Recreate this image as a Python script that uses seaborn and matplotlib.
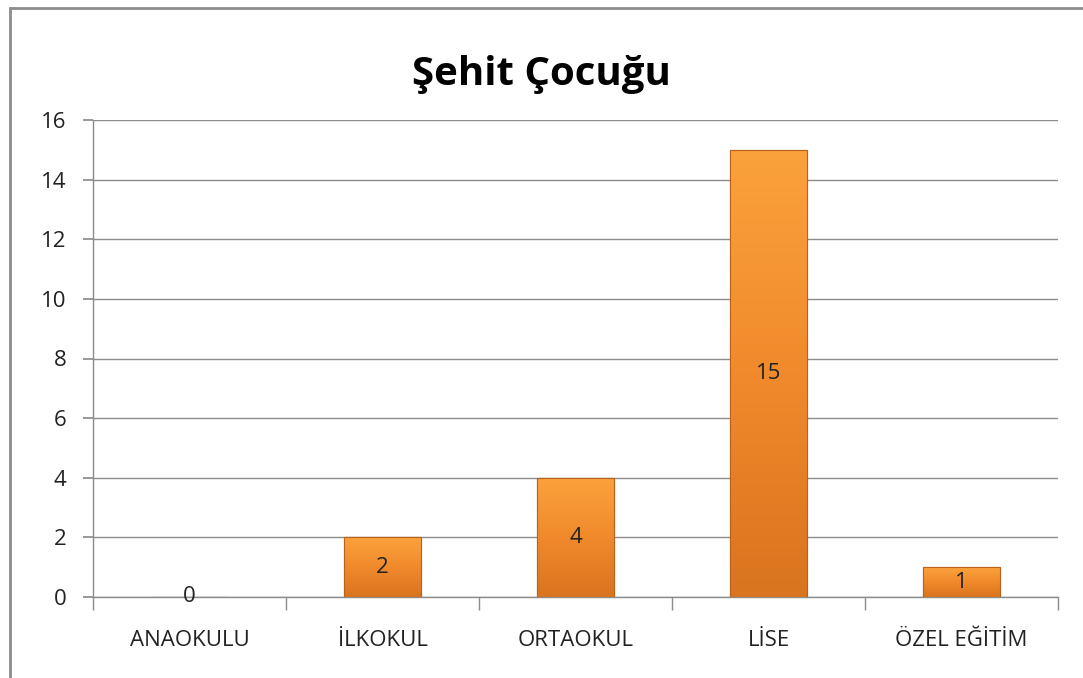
import numpy as np
import pandas as pd
import matplotlib
matplotlib.use("Agg")
import matplotlib.pyplot as plt
import matplotlib.patches as mpatches
from matplotlib.colors import LinearSegmentedColormap
import seaborn as sns

categories = ["ANAOKULU", "İLKOKUL", "ORTAOKUL", "LİSE", "ÖZEL EĞİTİM"]
values = [0, 2, 4, 15, 1]
title = "Şehit Çocuğu"

sns.set_theme(style="white")
plt.rcParams["font.family"] = ["Open Sans", "DejaVu Sans"]

fig = plt.figure(figsize=(10.83, 6.78), dpi=100)
ax = fig.add_axes([93 / 1083, 1 - 597 / 678, (1058 - 93) / 1083, (597 - 120) / 678])

df = pd.DataFrame({"cat": categories, "val": values})
sns.barplot(data=df, x="cat", y="val", color="#EE8A2E", width=0.4, ax=ax,
            edgecolor="#B8621C", linewidth=0.8, zorder=3)

# gradient fill on bars
cmap = LinearSegmentedColormap.from_list("og", ["#D9741F", "#F08A2C", "#FBA23C"])
grad = np.linspace(0, 1, 256).reshape(-1, 1)
for p in ax.patches:
    x0, y0 = p.get_x(), p.get_y()
    w, h = p.get_width(), p.get_height()
    if h <= 0:
        continue
    im = ax.imshow(grad, cmap=cmap, aspect="auto", origin="lower",
                   extent=[x0, x0 + w, y0, y0 + h], zorder=3.5)
    im.set_clip_path(p)
    ax.add_patch(mpatches.Rectangle((x0, y0), w, h, fill=False,
                                    edgecolor="#B8621C", linewidth=0.8, zorder=4))

ax.set_xlim(-0.5, len(categories) - 0.5)
ax.set_ylim(0, 16)
ax.set_yticks(range(0, 17, 2))
ax.grid(axis="y", color="#8C8C8C", linewidth=1, zorder=0)
ax.set_xlabel("")
ax.set_ylabel("")

for s in ["top", "right"]:
    ax.spines[s].set_visible(False)
for s in ["left", "bottom"]:
    ax.spines[s].set_visible(True)
    ax.spines[s].set_color("#8C8C8C")
    ax.spines[s].set_linewidth(1)

ax.tick_params(axis="y", left=True, length=7, color="#8C8C8C", labelsize=16,
               labelcolor="#222222", pad=12)
ax.set_xticks(range(len(categories)))
ax.set_xticklabels(categories)
ax.tick_params(axis="x", bottom=False, labelsize=16, labelcolor="#222222", pad=18)
ax.set_xticks(np.arange(-0.5, len(categories), 1), minor=True)
ax.tick_params(axis="x", which="minor", bottom=True, length=9, color="#8C8C8C", width=1)

for i, v in enumerate(values):
    ax.text(i, v / 2, str(v), ha="center", va="center", fontsize=16,
            color="#222222", zorder=5)

fig.text(0.5, 1 - 75 / 678, title, ha="center", va="center", fontsize=29,
         fontweight="bold", color="#000000")

fig.add_artist(mpatches.Rectangle((10 / 1083, -0.05), 1.1, 1 - 8 / 678 + 0.05,
                                  transform=fig.transFigure, fill=False,
                                  edgecolor="#8C8C8C", linewidth=2))

fig.savefig("out.png", dpi=100)
